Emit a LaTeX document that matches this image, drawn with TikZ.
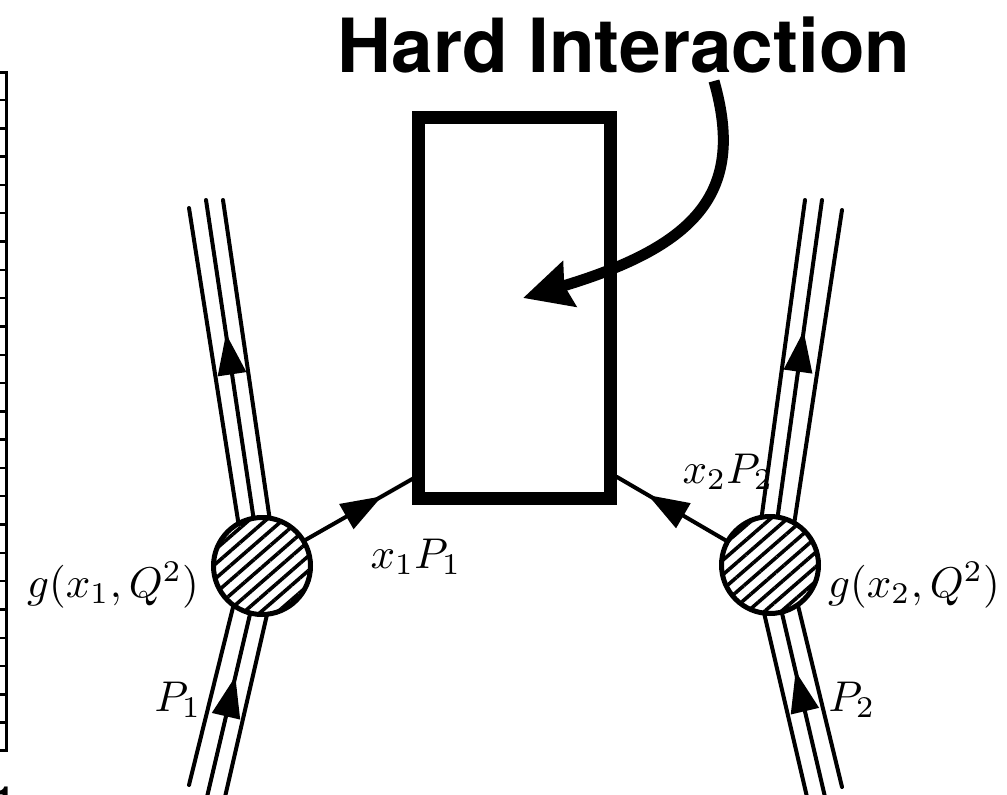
\documentclass[tikz,border=0pt]{standalone}
\usepackage[no-math]{fontspec}
\usepackage{tikz}
\usetikzlibrary{arrows.meta,patterns.meta,decorations.markings}
\newfontfamily\titlefont{TeX Gyre Heros}
\begin{document}
\begin{tikzpicture}[
  x=1pt, y=-1pt,
  lab/.style={scale=4.3, transform shape},
  beam/.style={line width=4pt, line cap=round},
  hardbox/.style={draw, line width=13pt, minimum width=192pt, minimum height=381pt, inner sep=0pt, outer sep=0pt},
  blob/.style={circle, draw, line width=5pt, minimum size=97pt, inner sep=0pt, outer sep=0pt,
               preaction={fill=white}, pattern={Lines[angle=41,distance=11pt,line width=3.6pt]}},
  midtip/.style={postaction={decorate}, decoration={markings,
               mark=at position #1 with {\arrow{Stealth[length=41pt,width=28pt,inset=0pt]}}}},
  frametick/.style={line width=2.4pt},
]
\clip (0,0) rectangle (1007,795);
% cropped panel on the left
\draw[line width=3pt] (0,72) -- (6,72) -- (6,750) -- (0,750);
\foreach \y in {100,128.3,156.6,184.9,213.2,241.5,269.8,298.1,326.4,354.7,383,411.3,439.6,467.9,496.2,524.5,552.8,581.1,609.4,637.7,666,694.3,722.6}
  \draw[frametick] (0,\y) -- (6,\y);
\node[font=\fontsize{36}{40}\selectfont\titlefont\bfseries] (panelno) at (5,800) {1};
% free ends of the beams
\coordinate (lt1) at (189,208);
\coordinate (lt2) at (206,200);
\coordinate (lt3) at (223,200);
\coordinate (lb1) at (189,785);
\coordinate (lb2) at (207,797);
\coordinate (lb3) at (225,797);
\coordinate (rt1) at (805,200);
\coordinate (rt2) at (822,200);
\coordinate (rt3) at (842,210);
\coordinate (rb1) at (807,797);
\coordinate (rb2) at (825,797);
\coordinate (rb3) at (842,787);
\coordinate (lhit) at (414,478);
\coordinate (rhit) at (617,477);
\coordinate (hardtail) at (714,81);
\coordinate (hardtip) at (523,298);
\node[hardbox] (hard) at (514.5,308) {};
\node[blob] (lblob) at (262,566) {};
\node[blob] (rblob) at (770,565) {};
% beams
\draw[beam] (lblob.119) -- (lt1);
\draw[beam, midtip=0.58] (lblob.100) -- (lt2);
\draw[beam] (lblob.81) -- (lt3);
\draw[beam] (lb1) -- (lblob.234);
\draw[beam, midtip=0.656] (lb2) -- (lblob.256);
\draw[beam] (lb3) -- (lblob.276);
\draw[beam] (rblob.100) -- (rt1);
\draw[beam, midtip=0.587] (rblob.81) -- (rt2);
\draw[beam] (rblob.60) -- (rt3);
\draw[beam] (rb1) -- (rblob.263);
\draw[beam, midtip=0.68] (rb2) -- (rblob.284);
\draw[beam] (rb3) -- (rblob.305);
% partons
\draw[beam, midtip=0.71] (lblob.31) -- (lhit);
\draw[beam, midtip=0.72] (rblob.151) -- (rhit);
% labels
\node[font=\fontsize{74.7}{80}\selectfont\titlefont\bfseries] (title) at (624,45) {Hard Interaction};
\draw[line width=11pt, -{Stealth[length=48pt,width=46pt,inset=5pt]}]
  (hardtail) .. controls (745,190) and (700,245) .. (hardtip);
\node[lab] (x1lab) at (416,557) {$x_1P_1$};
\node[lab] (x2lab) at (728,472) {$x_2P_2$};
\node[lab] (g1lab) at (113,585) {$g(x_1,Q^2)$};
\node[lab] (g2lab) at (914,585) {$g(x_2,Q^2)$};
\node[lab] (p1lab) at (178,700) {$P_1$};
\node[lab] (p2lab) at (852,700) {$P_2$};
\end{tikzpicture}
\end{document}
